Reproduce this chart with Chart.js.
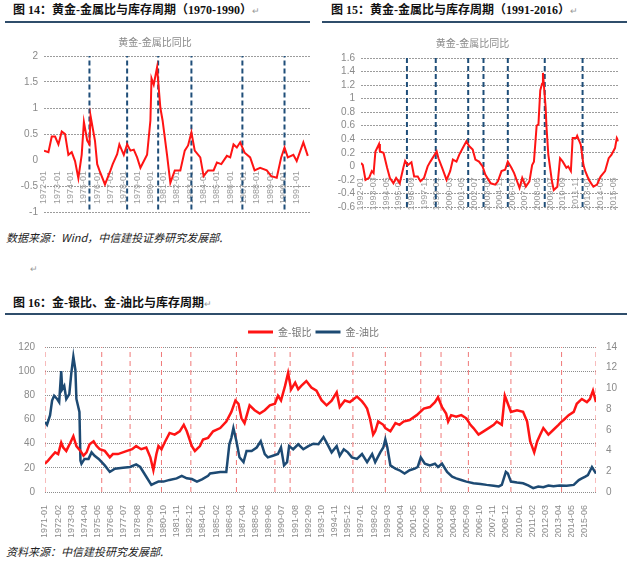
<!DOCTYPE html>
<html>
<head>
<meta charset="utf-8">
<script src="https://cdn.jsdelivr.net/npm/chart.js@4.4.0/dist/chart.umd.min.js"></script>
<style>
  body { margin: 0; width: 627px; height: 564px; overflow: hidden; background: #fff; position: relative;
         font-family: "Liberation Serif", "Noto Sans CJK SC", serif; }
  .cap { position: absolute; font-size: 12px; line-height: 14px; font-weight: bold; color: #111; white-space: nowrap; }
  .mark { font-size: 9px; font-weight: normal; color: #999; }
  .rule { position: absolute; height: 2px; background: #2f4d6b; }
  .src { position: absolute; font-size: 11px; line-height: 12px; font-style: italic; color: #222; white-space: nowrap;
         font-family: "Noto Sans CJK SC", sans-serif; }
  .box { position: absolute; }
</style>
</head>
<body>

<div class="cap" style="left:13px; top:3px;">图 14：黄金-金属比与库存周期（1970-1990）<span class="mark">↵</span></div>
<div class="rule" style="left:5px; top:21px; width:305px;"></div>
<div class="cap" style="left:331px; top:3px;">图 15：黄金-金属比与库存周期（1991-2016）<span class="mark">↵</span></div>
<div class="rule" style="left:322px; top:21px; width:305px;"></div>

<div class="box" style="left:0; top:30px; width:312px; height:194px;"><canvas id="chart14"></canvas></div>
<div class="box" style="left:318px; top:30px; width:309px; height:189px;"><canvas id="chart15"></canvas></div>

<div class="src" style="left:6px; top:231px;">数据来源：Wind，中信建投证券研究发展部.</div>
<div class="src" style="left:30px; top:263px; font-style:normal; color:#999; font-size:9px;">↵</div>

<div class="cap" style="left:13px; top:296px;">图 16：金-银比、金-油比与库存周期<span class="mark">↵</span></div>
<div class="rule" style="left:5px; top:313px; width:622px;"></div>

<div class="box" style="left:0; top:323px; width:627px; height:214px;"><canvas id="chart16"></canvas></div>

<div class="src" style="left:6px; top:545px;">资料来源：中信建投研究发展部.</div>

<script>
// ---- 图14: months counted from 1972-01 ----
const c14Ticks = ['1972-01', '1973-01', '1974-01', '1975-01', '1976-01', '1977-01', '1978-01', '1979-01', '1980-01', '1981-01',
                  '1982-01', '1983-01', '1984-01', '1985-01', '1986-01', '1987-01', '1988-01', '1989-01', '1990-01', '1991-01'];
const c14Cycles = ['1975-06', '1978-04', '1980-08', '1983-02', '1986-12', '1990-02'];
const c14Month = [0, 4, 7, 10, 13, 16, 19, 22, 25, 28, 31, 34, 36, 39, 41, 42, 46, 48, 50, 55,
                  60, 62, 66, 68, 72, 75, 78, 81, 84, 87, 93, 96, 97, 99, 102, 105, 107, 111, 114, 118,
                  123, 127, 130, 133, 136, 141, 144, 148, 153, 156, 160, 165, 168, 171, 174, 177, 181, 186, 190, 195,
                  201, 205, 210, 214, 217, 220, 225, 228, 234, 238];
const c14Value = [0.18, 0.15, 0.45, 0.45, 0.30, 0.55, 0.50, 0.10, 0.15, -0.02, -0.35, 0.10, 0.73, 0.37, 0.30, 0.85, 0.37, -0.08, -0.20, -0.47,
                  -0.20, -0.08, 0.11, 0.30, 0.10, 0.30, 0.18, 0.20, 0.05, -0.15, 0.10, 0.76, 1.57, 1.45, 1.78, 1.00, 0.76, 0.10, -0.44, -0.20,
                  -0.20, 0.18, 0.28, 0.53, 0.18, 0.05, -0.31, -0.20, -0.20, -0.05, -0.08, 0.08, 0.05, 0.30, 0.24, 0.34, 0.14, 0.05, -0.20, -0.15,
                  -0.20, -0.31, -0.34, 0.05, 0.24, 0.05, 0.10, -0.02, 0.34, 0.08];

// ---- 图15: months counted from 1992-01 ----
const c15Ticks = ['1992-01', '1993-03', '1994-05', '1995-07', '1996-09', '1997-11', '1999-01', '2000-03', '2001-05', '2002-07', '2003-09',
                  '2004-11', '2006-01', '2007-03', '2008-05', '2009-07', '2010-09', '2011-11', '2013-01', '2014-03', '2015-05'];
const c15Cycles = ['1996-04', '1998-12', '2001-12', '2003-05', '2005-08', '2009-01', '2012-07'];
const c15Month = [0, 2, 5, 9, 12, 14, 16, 20, 21, 25, 29, 32, 36, 39, 43, 47, 49, 52, 56, 59,
                  63, 66, 70, 74, 77, 84, 86, 90, 95, 99, 102, 106, 109, 113, 117, 120, 124, 127, 131, 135,
                  138, 144, 149, 152, 156, 160, 163, 167, 170, 176, 179, 183, 187, 190, 192, 195, 197, 199, 201, 202,
                  205, 206, 208, 212, 214, 218, 221, 224, 228, 230, 233, 235, 239, 240, 244, 247, 249, 253, 258, 262,
                  266, 271, 275, 278, 282, 284, 286];
const c15Value = [0.05, 0.02, -0.20, -0.17, -0.07, -0.10, 0.22, 0.33, 0.22, 0.20, -0.02, -0.17, -0.25, -0.17, -0.25, -0.02, 0.08, 0.02, 0.06, -0.15,
                  -0.15, -0.22, -0.17, 0.00, 0.07, 0.22, 0.12, -0.02, -0.20, -0.07, 0.10, 0.07, 0.17, 0.27, 0.37, 0.30, 0.25, 0.10, 0.07, 0.00,
                  -0.12, -0.25, -0.27, -0.22, -0.07, -0.05, 0.07, -0.02, -0.10, -0.32, -0.17, -0.30, -0.22, 0.02, 0.07, 0.60, 0.62, 1.12, 1.22, 1.38,
                  0.87, 0.57, 0.17, -0.22, -0.35, -0.30, 0.12, 0.07, -0.02, 0.00, -0.07, 0.42, 0.42, 0.45, 0.32, 0.02, -0.07, -0.20, -0.30, -0.27,
                  -0.15, -0.07, 0.12, 0.17, 0.27, 0.42, 0.37];

// ---- 图16: months counted from 1971-01 ----
const c16Ticks = ['1971-01', '1972-02', '1973-03', '1974-04', '1975-05', '1976-06', '1977-07', '1978-08', '1979-09', '1980-10', '1981-11',
                  '1982-12', '1984-01', '1985-02', '1986-03', '1987-04', '1988-05', '1989-06', '1990-07', '1991-08', '1992-09', '1993-10',
                  '1994-11', '1995-12', '1997-01', '1998-02', '1999-03', '2000-04', '2001-05', '2002-06', '2003-07', '2004-08', '2005-09',
                  '2006-10', '2007-11', '2008-12', '2010-01', '2011-02', '2012-03', '2013-04', '2014-05', '2015-06'];
const c16Cycles = ['1971-01', '1975-09', '1978-01', '1980-08', '1983-01', '1986-10', '1989-12', '1991-03', '1996-05', '1999-01',
                   '2001-12', '2003-08', '2005-11', '2009-05', '2013-07', '2016-05'];
const silverMonth = [0, 3, 7, 10, 13, 16, 18, 21, 25, 28, 31, 35, 38, 41, 44, 48, 51, 54, 59, 64,
                     67, 72, 81, 86, 90, 95, 100, 104, 107, 110, 112, 115, 118, 123, 128, 133, 137, 140, 145, 148,
                     153, 156, 161, 166, 173, 179, 184, 188, 191, 194, 197, 202, 207, 212, 217, 222, 227, 230, 233, 237,
                     240, 243, 247, 250, 253, 258, 263, 268, 273, 278, 283, 288, 291, 296, 301, 308, 313, 316, 318, 321,
                     324, 326, 329, 334, 336, 341, 346, 350, 354, 360, 367, 374, 380, 385, 388, 392, 396, 398, 401, 406,
                     411, 416, 420, 423, 428, 433, 438, 443, 446, 451, 454, 457, 460, 466, 472, 476, 479, 483, 486, 489,
                     492, 497, 502, 507, 510, 512, 517, 522, 525, 530, 535, 538, 541, 544];
const silverValue = [23.4, 26.0, 30.0, 32.8, 31.4, 40.8, 36.8, 34.0, 40.8, 46.2, 38.0, 34.0, 30.0, 32.8, 39.5, 42.0, 38.0, 35.4, 34.0, 28.7,
                     31.4, 31.4, 34.0, 35.4, 38.0, 35.4, 36.8, 28.7, 18.0, 31.4, 38.0, 35.4, 40.8, 48.9, 47.5, 50.2, 55.6, 50.2, 38.0, 34.0,
                     38.0, 43.5, 44.8, 50.2, 52.9, 58.3, 66.3, 75.7, 73.0, 61.0, 57.0, 71.7, 67.7, 65.0, 67.7, 71.7, 73.0, 79.7, 75.7, 87.8,
                     98.5, 85.0, 90.5, 85.0, 87.8, 91.8, 86.4, 83.8, 76.0, 71.7, 75.5, 82.4, 70.3, 75.7, 74.4, 79.0, 75.0, 71.7, 69.0, 60.0,
                     47.5, 50.2, 58.3, 55.6, 52.9, 50.2, 57.0, 55.6, 58.3, 59.6, 63.6, 69.0, 70.3, 74.4, 78.4, 70.3, 65.0, 58.3, 63.6, 62.3,
                     63.6, 61.0, 55.6, 52.9, 47.5, 50.2, 52.9, 55.6, 58.3, 55.6, 79.7, 73.0, 66.3, 67.7, 66.3, 58.3, 42.0, 32.8, 42.0, 47.5,
                     52.9, 47.5, 51.5, 55.6, 58.3, 59.6, 63.6, 66.3, 73.0, 77.0, 74.4, 77.0, 83.8, 74.4];
const oilMonth = [0, 2, 5, 7, 9, 12, 14, 16, 17, 19, 21, 24, 26, 28, 30, 31, 34, 35, 36, 39,
                  43, 46, 49, 53, 56, 59, 64, 69, 77, 84, 90, 94, 100, 105, 108, 112, 117, 123, 130, 135,
                  140, 145, 150, 155, 161, 163, 173, 179, 182, 184, 186, 189, 192, 196, 199, 204, 209, 213, 217, 220,
                  225, 230, 233, 236, 239, 241, 245, 250, 255, 260, 265, 270, 275, 278, 283, 288, 291, 295, 299, 303,
                  308, 313, 318, 323, 326, 331, 334, 336, 338, 341, 346, 350, 355, 360, 365, 368, 371, 375, 380, 385,
                  388, 392, 397, 402, 406, 411, 416, 423, 430, 436, 443, 448, 451, 455, 457, 460, 466, 472, 477, 482,
                  487, 492, 497, 502, 508, 515, 522, 527, 530, 533, 536, 540, 543, 544];
const oilValue = [58.0, 55.6, 63.6, 75.7, 79.7, 77.0, 74.4, 100.0, 85.0, 87.8, 77.0, 81.0, 98.5, 112.0, 101.0, 77.0, 66.3, 26.0, 23.4, 27.4,
                  27.4, 32.8, 30.0, 27.4, 24.7, 22.0, 16.6, 19.3, 20.0, 20.7, 22.8, 20.7, 12.6, 5.9, 7.2, 8.6, 8.6, 10.0, 11.3, 13.4,
                  11.3, 10.7, 8.6, 10.5, 13.4, 15.3, 16.6, 16.6, 39.5, 44.8, 52.9, 42.0, 28.7, 24.7, 34.0, 34.0, 36.8, 42.0, 31.4, 28.7,
                  30.0, 31.4, 36.8, 22.0, 24.7, 38.0, 35.4, 39.5, 35.4, 38.0, 40.0, 39.5, 45.5, 40.8, 32.8, 38.0, 30.0, 35.4, 32.8, 28.7,
                  27.4, 31.4, 24.7, 31.4, 24.7, 32.8, 36.8, 43.5, 36.8, 22.0, 19.3, 18.0, 15.3, 18.0, 19.3, 20.7, 28.7, 23.4, 22.0, 23.4,
                  20.7, 23.4, 16.6, 12.6, 11.3, 9.9, 8.6, 7.2, 6.7, 5.9, 5.1, 4.6, 5.9, 16.6, 15.3, 8.6, 7.8, 7.2, 5.4, 3.2,
                  4.6, 4.0, 5.4, 4.8, 5.4, 5.1, 5.9, 9.9, 11.3, 12.6, 14.0, 20.7, 16.6, 15.3];

Chart.defaults.font.family = '"Liberation Sans", "Noto Sans CJK SC", sans-serif';
Chart.defaults.color = '#8a8a8a';

function toMonth(label, baseYear) {
    const parts = label.split('-');
    return (parseInt(parts[0], 10) - baseYear) * 12 + parseInt(parts[1], 10) - 1;
}

function points(months, values) {
    return months.map((m, i) => ({ x: m, y: values[i] }));
}

// Drop the trailing zeros Chart.js adds ("2.0" -> "2")
function plainNumber(v) {
    return String(Number(v.toFixed(2)));
}

// Dashed vertical markers, each a two-point dataset on the chart's own scales
function cycleSets(dates, baseYear, yMin, yMax, color, width, dash) {
    return dates.map(d => ({
        data: [{ x: toMonth(d, baseYear), y: yMin }, { x: toMonth(d, baseYear), y: yMax }],
        borderColor: color,
        borderWidth: width,
        borderDash: dash,
        pointRadius: 0,
        order: 5
    }));
}

function yoyChart(id, opts) {
    const ctx = document.getElementById(id).getContext('2d');
    new Chart(ctx, {
        type: 'line',
        data: {
            datasets: [{
                data: points(opts.months, opts.values),
                borderColor: '#ff1414',
                borderWidth: 2,
                pointRadius: 0,
                tension: 0,
                order: 1
            }].concat(cycleSets(opts.cycles, opts.baseYear, opts.lineMin, opts.yMax, '#1f4e79', 2, [5, 3]))
        },
        options: {
            responsive: true,
            maintainAspectRatio: false,
            animation: false,
            layout: { padding: { left: 0, right: opts.padRight, top: 0, bottom: 0 } },
            plugins: {
                legend: { display: false },
                tooltip: { enabled: false },
                title: {
                    display: true,
                    text: '黄金-金属比同比',
                    color: '#8a8a8a',
                    font: { size: 10, weight: 'normal', family: '"Noto Sans CJK SC", sans-serif' },
                    padding: opts.titlePad
                }
            },
            scales: {
                x: {
                    type: 'linear',
                    position: { y: 0 },
                    min: 0,
                    max: opts.xMax,
                    grid: { display: false },
                    border: { display: false },
                    afterBuildTicks: axis => { axis.ticks = opts.ticks.map(t => ({ value: toMonth(t, opts.baseYear) })); },
                    ticks: {
                        autoSkip: false,
                        minRotation: 90,
                        maxRotation: 90,
                        padding: 3,
                        font: { size: 9 },
                        color: '#9a9a9a',
                        callback: (v, i) => opts.ticks[i]
                    }
                },
                y: {
                    min: opts.yMin,
                    max: opts.yMax,
                    afterFit: axis => { axis.width = opts.yWidth; },
                    ticks: {
                        stepSize: opts.yStep,
                        autoSkip: false,
                        padding: 6,
                        font: { size: 10 },
                        color: '#8a8a8a',
                        callback: v => plainNumber(v)
                    },
                    grid: {
                        drawTicks: false,
                        color: ctx => (ctx.tick && Math.abs(ctx.tick.value) < 1e-9) ? 'rgba(0,0,0,0)' : '#9c9c9c'
                    },
                    border: { display: false, dash: [2, 1] }
                }
            }
        }
    });
}

yoyChart('chart14', {
    months: c14Month, values: c14Value, ticks: c14Ticks, cycles: c14Cycles, baseYear: 1972,
    xMax: 240, yMin: -1, yMax: 2, yStep: 0.5, lineMin: -0.95, yWidth: 44, padRight: 2,
    titlePad: { top: 6, bottom: 8 }
});

yoyChart('chart15', {
    months: c15Month, values: c15Value, ticks: c15Ticks, cycles: c15Cycles, baseYear: 1992,
    xMax: 286, yMin: -0.6, yMax: 1.6, yStep: 0.2, lineMin: -0.6, yWidth: 43, padRight: 0,
    titlePad: { top: 7, bottom: 9 }
});

// ---- 图16 ----
const ratioCtx = document.getElementById('chart16').getContext('2d');
new Chart(ratioCtx, {
    type: 'line',
    data: {
        datasets: [{
            label: '金-银比',
            data: points(silverMonth, silverValue),
            borderColor: '#ff1414',
            backgroundColor: '#ff1414',
            borderWidth: 2.5,
            pointRadius: 0,
            tension: 0,
            order: 1
        }, {
            label: '金-油比',
            data: points(oilMonth, oilValue),
            borderColor: '#1d4a73',
            backgroundColor: '#1d4a73',
            borderWidth: 2.5,
            pointRadius: 0,
            tension: 0,
            order: 2
        }].concat(cycleSets(c16Cycles, 1971, 0, 120, '#f07878', 1, [5, 4]))
    },
    options: {
        responsive: true,
        maintainAspectRatio: false,
        animation: false,
        layout: { padding: 0 },
        plugins: {
            tooltip: { enabled: false },
            legend: {
                display: true,
                position: 'top',
                labels: {
                    boxWidth: 25,
                    boxHeight: 3,
                    padding: 4,
                    color: '#777',
                    font: { size: 10, family: '"Noto Sans CJK SC", sans-serif' },
                    generateLabels: chart => Chart.defaults.plugins.legend.labels.generateLabels(chart)
                        .filter(item => item.datasetIndex < 2)
                        .map(item => Object.assign(item, { lineWidth: 0 }))
                }
            }
        },
        scales: {
            x: {
                type: 'linear',
                min: 0,
                max: 544,
                grid: { display: false },
                border: { display: false },
                afterBuildTicks: axis => { axis.ticks = c16Ticks.map(t => ({ value: toMonth(t, 1971) })); },
                afterFit: axis => { axis.height = 45; },
                ticks: {
                    autoSkip: false,
                    minRotation: 90,
                    maxRotation: 90,
                    padding: 5,
                    font: { size: 9 },
                    color: '#8a8a8a',
                    callback: (v, i) => c16Ticks[i]
                }
            },
            y: {
                position: 'left',
                min: 0,
                max: 120,
                afterFit: axis => { axis.width = 45; },
                ticks: { stepSize: 20, padding: 10, font: { size: 10 }, color: '#8a8a8a' },
                grid: { drawTicks: false, color: '#8c8c8c' },
                border: { display: false, dash: [1, 1] }
            },
            y1: {
                position: 'right',
                min: 0,
                max: 14,
                afterFit: axis => { axis.width = 31; },
                ticks: { stepSize: 2, padding: 10, font: { size: 10 }, color: '#8a8a8a' },
                grid: { display: false, drawTicks: false },
                border: { display: false }
            }
        }
    }
});
</script>
</body>
</html>
